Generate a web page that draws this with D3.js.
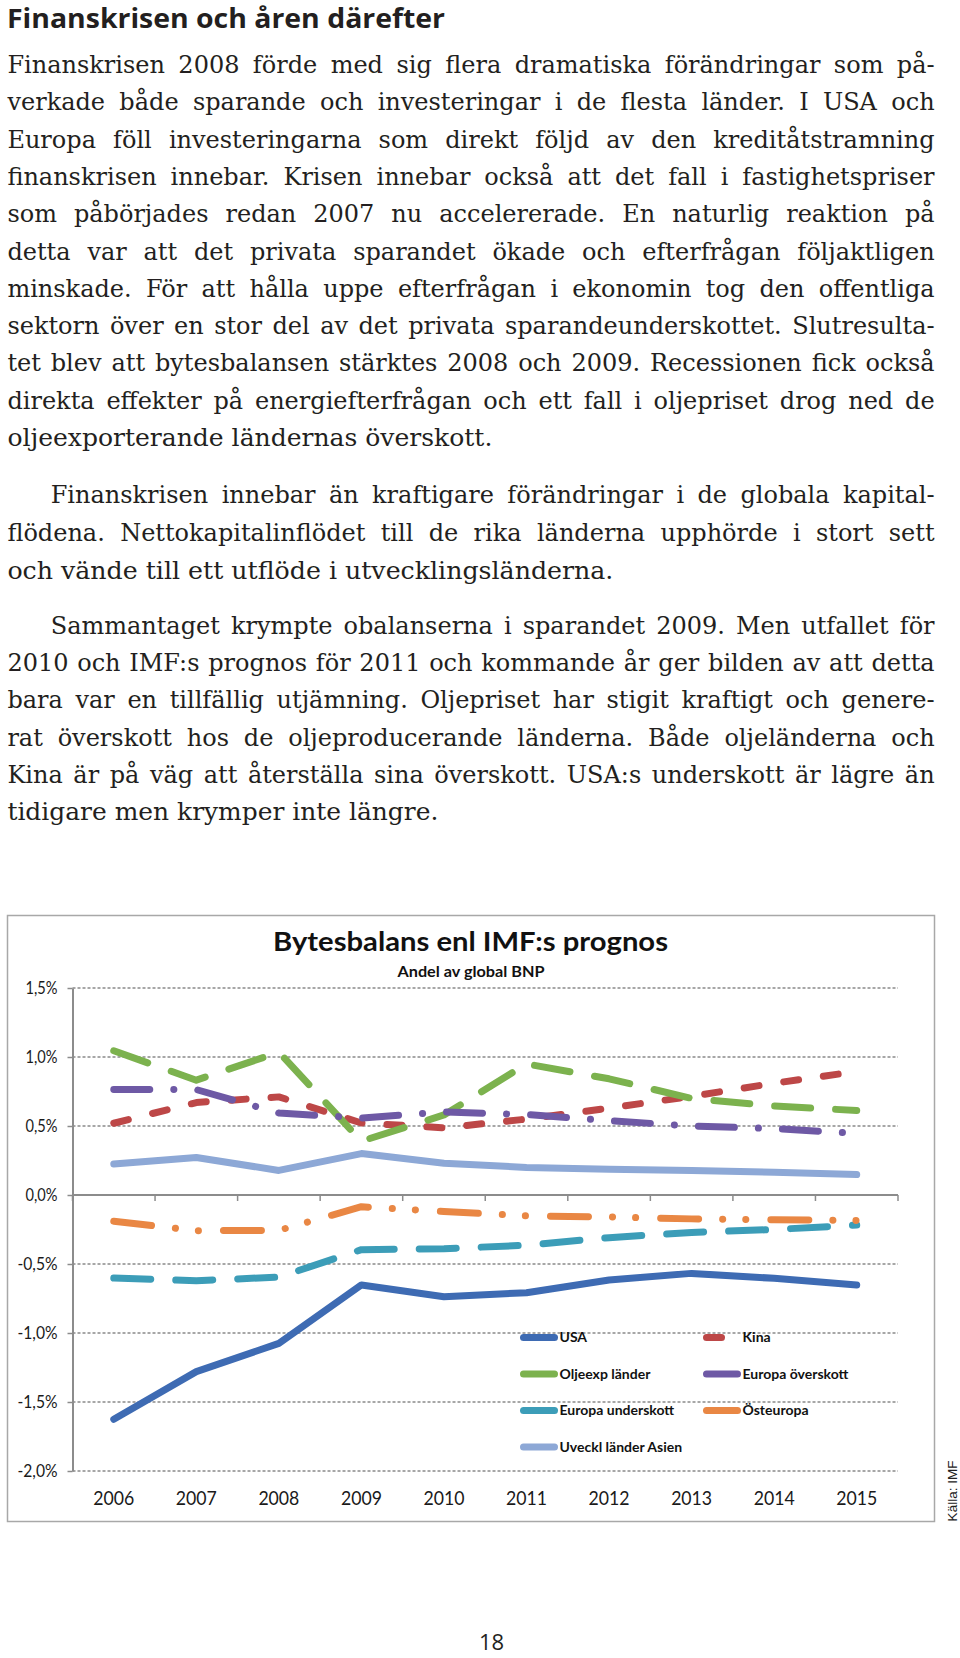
<!DOCTYPE html>
<html><head><meta charset="utf-8">
<script src="https://cdn.jsdelivr.net/npm/d3@7"></script>
<style>
body{margin:0;background:#fff}
svg{display:block}
.body{font-family:"DejaVu Serif",serif;font-size:24px;fill:#231f20}
.chart text{font-family:Lato,"Open Sans",sans-serif}
</style>
</head><body><svg id="page" width="960" height="1658"></svg>
<script>
// ---------- text content ----------
const heading = "Finanskrisen och åren därefter";
const para1 = [
 "Finanskrisen 2008 förde med sig flera dramatiska förändringar som på-",
 "verkade både sparande och investeringar i de flesta länder. I USA och",
 "Europa föll investeringarna som direkt följd av den kreditåtstramning",
 "finanskrisen innebar. Krisen innebar också att det fall i fastighetspriser",
 "som påbörjades redan 2007 nu accelererade. En naturlig reaktion på",
 "detta var att det privata sparandet ökade och efterfrågan följaktligen",
 "minskade. För att hålla uppe efterfrågan i ekonomin tog den offentliga",
 "sektorn över en stor del av det privata sparandeunderskottet. Slutresulta-",
 "tet blev att bytesbalansen stärktes 2008 och 2009. Recessionen fick också",
 "direkta effekter på energiefterfrågan och ett fall i oljepriset drog ned de",
 "oljeexporterande ländernas överskott."
];
const para2 = [
 "Finanskrisen innebar än kraftigare förändringar i de globala kapital-",
 "flödena. Nettokapitalinflödet till de rika länderna upphörde i stort sett",
 "och vände till ett utflöde i utvecklingsländerna."
];
const para3 = [
 "Sammantaget krympte obalanserna i sparandet 2009. Men utfallet för",
 "2010 och IMF:s prognos för 2011 och kommande år ger bilden av att detta",
 "bara var en tillfällig utjämning. Oljepriset har stigit kraftigt och genere-",
 "rat överskott hos de oljeproducerande länderna. Både oljeländerna och",
 "Kina är på väg att återställa sina överskott. USA:s underskott är lägre än",
 "tidigare men krymper inte längre."
];
const chartTitle = "Bytesbalans enl IMF:s prognos";
const chartSubtitle = "Andel av global BNP";
const sourceText = "Källa: IMF";
const pageNumber = "18";

// ---------- chart data ----------
const years = [2006, 2007, 2008, 2009, 2010, 2011, 2012, 2013, 2014, 2015];
const yTicks = [-2, -1.5, -1, -0.5, 0, 0.5, 1, 1.5];
const seriesNames = ["USA", "Kina", "Oljeexp länder", "Europa överskott", "Europa underskott", "Östeuropa", "Uveckl länder Asien"];
const usa        = [-1.625, -1.28, -1.075, -0.652, -0.737, -0.708, -0.616, -0.568, -0.604, -0.652];
const kina       = [0.52, 0.67, 0.711, 0.522, 0.487, 0.55, 0.63, 0.715, 0.81, 0.895];
const oljeexp    = [1.045, 0.832, 1.035, 0.39, 0.58, 0.95, 0.842, 0.7, 0.645, 0.612];
const europaOver = [0.765, 0.764, 0.594, 0.558, 0.602, 0.583, 0.538, 0.5, 0.481, 0.447];
const europaUnd  = [-0.602, -0.621, -0.595, -0.396, -0.389, -0.364, -0.309, -0.271, -0.25, -0.218];
const osteuropa  = [-0.19, -0.259, -0.256, -0.085, -0.12, -0.151, -0.159, -0.173, -0.179, -0.185];
const uvecklAsien= [0.224, 0.272, 0.178, 0.3, 0.23, 0.2, 0.187, 0.177, 0.165, 0.148];
const seriesValues = [usa, kina, oljeexp, europaOver, europaUnd, osteuropa, uvecklAsien];

// styles (not data)
const colors = ["#3e6bb3", "#bd4747", "#7cb24e", "#6e59a5", "#3c9db8", "#e98744", "#8da8d6"];
const dashes = [null, "15,25", "36,25", "36,24,0.1,24", "37,25", "38,24,0.1,23,0.1,25", null];

const svg = d3.select("#page");
svg.append("rect").attr("width", 960).attr("height", 1658).attr("fill", "#fff");

// ---------- heading & body ----------
svg.append("text").text(heading)
  .attr("x", 7).attr("y", 28)
  .attr("textLength", 438).attr("lengthAdjust", "spacingAndGlyphs")
  .style("font-family", "'Open Sans',sans-serif").style("font-weight", 700)
  .style("font-size", "26px").style("fill", "#231f20");

const bodyG = svg.append("g");
function drawLine(str, x, y, width, justify) {
  if (!justify) {
    const t = bodyG.append("text").attr("class", "body").attr("x", x).attr("y", y).text(str);
    t.attr("textLength", width).attr("lengthAdjust", "spacingAndGlyphs");
    return;
  }
  const words = str.split(" ");
  const t = bodyG.append("text").attr("class", "body").attr("y", y);
  const spans = words.map(w => t.append("tspan").text(w));
  const ws = spans.map(s => s.node().getComputedTextLength());
  const sum = d3.sum(ws);
  const gap = (width - sum) / (words.length - 1);
  if (gap < 4) {
    t.selectAll("tspan").remove();
    t.attr("x", x).text(str).attr("textLength", width).attr("lengthAdjust", "spacingAndGlyphs");
    return;
  }
  let cx = x;
  spans.forEach((s, i) => { s.attr("x", cx); cx += ws[i] + gap; });
}
const L = 7.4, R = 934.6, IND = 50.7;
para1.forEach((s, i) => {
  const last = i === para1.length - 1;
  drawLine(s, L, 73 + 37.3 * i, last ? 485 : R - L, !last);
});
const p2y = [503, 541, 579];
para2.forEach((s, i) => {
  const last = i === para2.length - 1;
  const x0 = i === 0 ? IND : L;
  drawLine(s, x0, p2y[i], last ? 606 : R - x0, !last);
});
para3.forEach((s, i) => {
  const last = i === para3.length - 1;
  const x0 = i === 0 ? IND : L;
  drawLine(s, x0, 634 + 37.2 * i, last ? 431 : R - x0, !last);
});

// ---------- chart ----------
const chart = svg.append("g").attr("class", "chart");
chart.append("rect").attr("x", 7.5).attr("y", 915.5).attr("width", 927).attr("height", 606)
  .attr("fill", "#fff").attr("stroke", "#a8a8a8").attr("stroke-width", 1.5);

chart.append("text").text(chartTitle)
  .attr("x", 470.5).attr("y", 951).attr("text-anchor", "middle")
  .attr("textLength", 395).attr("lengthAdjust", "spacingAndGlyphs")
  .style("font-weight", 700).style("font-size", "26px").style("fill", "#111");
chart.append("text").text(chartSubtitle)
  .attr("x", 471).attr("y", 977).attr("text-anchor", "middle")
  .attr("textLength", 147).attr("lengthAdjust", "spacingAndGlyphs")
  .style("font-weight", 700).style("font-size", "15px").style("fill", "#111");

const x = d3.scaleBand().domain(years).range([72.5, 898]).padding(0);
const y = d3.scaleLinear().domain([-2, 1.5]).range([1471, 988]);
const cx = d => x(d) + x.bandwidth() / 2;

const loc = d3.formatLocale({decimal: ",", thousands: " ", grouping: [3], currency: ["", ""], minus: "-"});
const fmt = loc.format(".1f");

// gridlines
chart.append("g").selectAll("line").data(yTicks.filter(d => d !== 0)).join("line")
  .attr("x1", 72.5).attr("x2", 898).attr("y1", d => y(d)).attr("y2", d => y(d))
  .attr("stroke", "#8a8a8a").attr("stroke-width", 1.6).attr("stroke-dasharray", "3,2");

// y axis
const yAxis = chart.append("g").attr("transform", "translate(72.5,0)")
  .call(d3.axisLeft(y).tickValues(yTicks).tickSize(5).tickSizeOuter(0).tickPadding(10)
    .tickFormat(d => fmt(d) + "%"));
yAxis.select(".domain").attr("stroke", "#8c8c8c").attr("stroke-width", 2);
yAxis.selectAll(".tick line").attr("stroke", "#8c8c8c").attr("stroke-width", 1.5);
yAxis.selectAll(".tick text").style("font-size", "17px").style("fill", "#1a1a1a")
  .attr("textLength", d => d < 0 ? 40 : 32).attr("lengthAdjust", "spacingAndGlyphs");

// zero axis with boundary ticks
chart.append("line").attr("x1", 72.5).attr("x2", 898).attr("y1", y(0)).attr("y2", y(0))
  .attr("stroke", "#8c8c8c").attr("stroke-width", 2);
chart.append("g").selectAll("line").data(years.map(d => x(d)).concat([x.range()[1]])).join("line")
  .attr("x1", d => d).attr("x2", d => d).attr("y1", y(0)).attr("y2", y(0) + 6)
  .attr("stroke", "#8c8c8c").attr("stroke-width", 1.5);

// year labels
const xAxis = chart.append("g").attr("transform", "translate(0,1491)")
  .call(d3.axisBottom(x).tickSize(0).tickPadding(0));
xAxis.select(".domain").remove();
xAxis.selectAll(".tick text").style("font-size", "20px").style("fill", "#1a1a1a")
  .attr("textLength", 41).attr("lengthAdjust", "spacingAndGlyphs");

// series lines
const line = d3.line().x((d, i) => cx(years[i])).y(d => y(d));
seriesValues.forEach((vals, k) => {
  chart.append("path").datum(vals).attr("d", line)
    .attr("fill", "none").attr("stroke", colors[k]).attr("stroke-width", 7)
    .attr("stroke-linecap", "round").attr("stroke-linejoin", "round")
    .attr("stroke-dasharray", dashes[k]);
});

// legend
const legCols = [520, 703], legRows = [1337.5, 1374, 1410.5, 1447];
const leg = chart.append("g").selectAll("g").data(seriesNames).join("g")
  .attr("transform", (d, i) => `translate(${legCols[i % 2]},${legRows[Math.floor(i / 2)]})`);
leg.append("line").attr("x1", 3.5).attr("x2", 34.5).attr("y1", 0).attr("y2", 0)
  .attr("stroke", (d, i) => colors[i]).attr("stroke-width", 7).attr("stroke-linecap", "round")
  .attr("stroke-dasharray", (d, i) => dashes[i]);
leg.append("text").text(d => d).attr("x", 39.5).attr("y", 0).attr("dy", "0.35em")
  .style("font-weight", 700).style("font-size", "14px").style("fill", "#111");

// source
svg.append("text").text(sourceText)
  .attr("transform", "translate(957,1491) rotate(-90)").attr("text-anchor", "middle")
  .style("font-family", "'Liberation Sans',Arial,sans-serif").style("font-size", "13.5px").style("fill", "#222");

// page number
svg.append("text").text(pageNumber).attr("x", 491.6).attr("y", 1650).attr("text-anchor", "middle")
  .style("font-family", "'Open Sans',sans-serif").style("font-size", "22px").style("fill", "#231f20");
</script>
</body></html>
